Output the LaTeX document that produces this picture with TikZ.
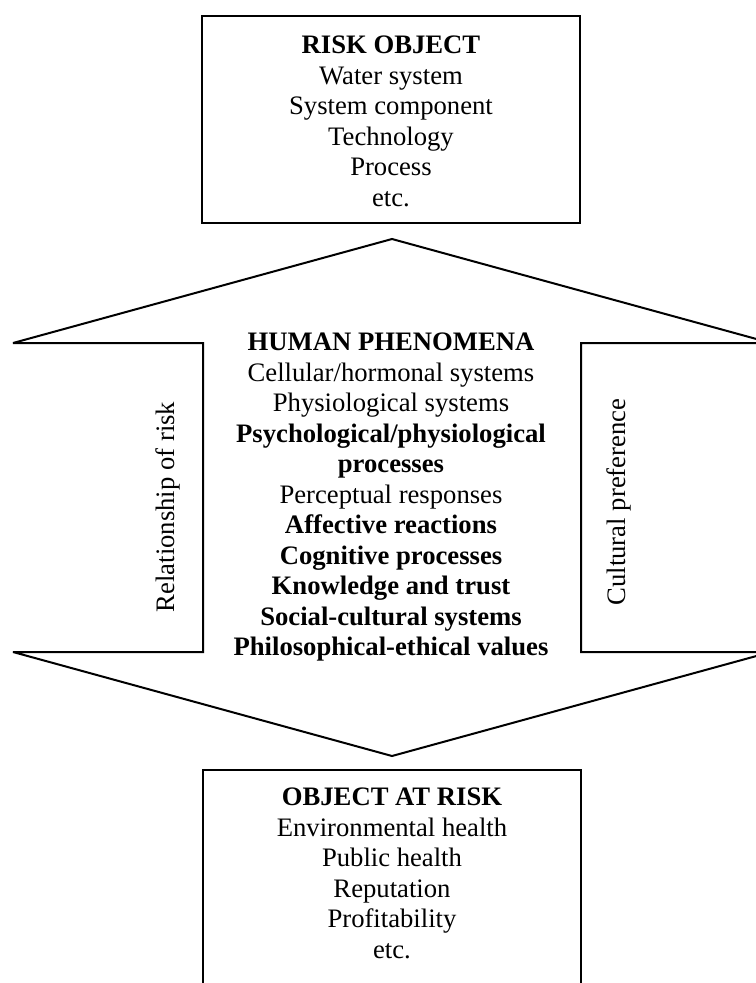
\documentclass[tikz,border=0pt]{standalone}
\usepackage{fontspec}
\setmainfont{Liberation Serif}
\usetikzlibrary{positioning}

\tikzset{
  txt/.style={align=center, inner sep=0pt, anchor=north, font=\fontsize{20}{22.9}\selectfont},
  sidelabel/.style={inner sep=0pt, rotate=90, font=\fontsize{20}{22.9}\selectfont}
}

\begin{document}
\begin{tikzpicture}[x=0.75pt, y=-0.75pt, line width=1.5pt, line join=miter, miter limit=2]
    \useasboundingbox (0,0) rectangle (756,983);
    \clip (0,0) rectangle (756,983);

    % risk object
    \draw (202,16) rectangle (580,223);
    \node[txt] (riskobj) at (391,35) {\textbf{RISK OBJECT}\\Water system\\System component\\Technology\\Process\\etc.};

    % double arrow with the two side boxes
    \draw (13,343) -- (392,239) -- (771,343) -- (581,343) -- (581,652) -- (771,652)
        -- (392,756) -- (13,652) -- (203,652) -- (203,343) -- cycle;

    \node[sidelabel] (relrisk) at (168,507) {Relationship of risk};
    \node[sidelabel] (culture) at (619,502) {Cultural preference};

    % human phenomena
    \node[txt] (human) at (391,332) {\textbf{HUMAN PHENOMENA}\\Cellular/hormonal systems\\Physiological systems\\
        \textbf{Psychological/physiological}\\\textbf{processes}\\Perceptual responses\\
        \textbf{Affective reactions}\\\textbf{Cognitive processes}\\\textbf{Knowledge and trust}\\
        \textbf{Social-cultural systems}\\\textbf{Philosophical-ethical values}};

    % object at risk
    \draw (203,770) rectangle (581,995);
    \node[txt] (objrisk) at (392,787) {\textbf{OBJECT AT RISK}\\Environmental health\\Public health\\Reputation\\Profitability\\etc.};

\end{tikzpicture}
\end{document}
